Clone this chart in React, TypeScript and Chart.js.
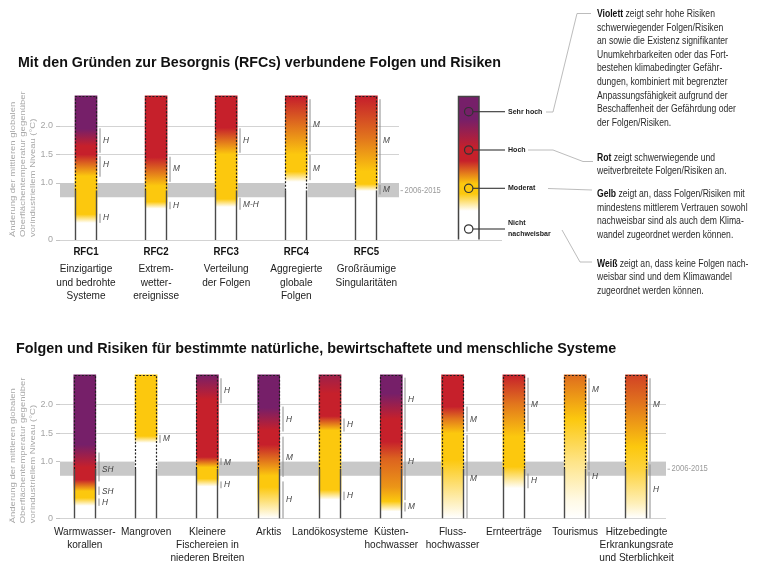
import React, { useEffect, useRef } from 'react';
import { Chart, registerables } from 'chart.js';

Chart.register(...registerables);

// ------------------------------------------------------------------ data
// risk level scale: 0 = nicht nachweisbar (weiß), 1 = moderat (gelb), 2 = hoch (rot), 3 = sehr hoch (violett)
const riskPalette = ['#FFFFFF', '#FCC80E', '#C6202B', '#761F69'];

const titleTop = 'Mit den Gründen zur Besorgnis (RFCs) verbundene Folgen und Risiken';
const titleBottom = 'Folgen und Risiken für bestimmte natürliche, bewirtschaftete und menschliche Systeme';

const yTitleLines = ['Änderung der mittleren globalen', 'Oberflächentemperatur gegenüber', 'vorindustriellem Niveau (°C)'];
const yTicksShown = [0, 1.0, 1.5, 2.0];
const yGridShown = [0, 1.5, 2.0];
const yMax = 2.6;
const presentDayBand = [0.75, 1.0];
const presentDayLabel = '2006-2015';
const dashedAbove = 0.87;

const rfcCodes = ['RFC1', 'RFC2', 'RFC3', 'RFC4', 'RFC5'];
const rfcNames = [
  ['Einzigartige', 'und bedrohte', 'Systeme'],
  ['Extrem-', 'wetter-', 'ereignisse'],
  ['Verteilung', 'der Folgen'],
  ['Aggregierte', 'globale', 'Folgen'],
  ['Großräumige', 'Singularitäten'],
];
const rfcBarTop = [2.53, 2.53, 2.53, 2.53, 2.53];
// [warming °C, risk level]
const rfcRiskStops = [
  [[0.3, 0], [0.45, 1], [1.12, 1], [1.5, 2], [1.65, 2], [1.95, 3]],
  [[0.55, 0], [0.67, 1], [0.95, 1], [1.45, 2]],
  [[0.58, 0], [0.72, 1], [1.5, 1], [1.97, 2]],
  [[1.02, 0], [1.2, 1], [1.5, 1], [2.0, 1.5], [2.5, 2]],
  [[0.86, 0], [0.98, 1], [1.2, 1], [1.8, 1.5], [2.5, 2]],
];
// [from °C, to °C, confidence, label at °C]
const rfcConfidence = [
  [[1.53, 1.96, 'H', 1.75], [1.11, 1.47, 'H', 1.32], [0.3, 0.46, 'H', 0.39]],
  [[1.02, 1.46, 'M', 1.25], [0.54, 0.67, 'H', 0.6]],
  [[1.53, 1.96, 'H', 1.75], [0.53, 0.74, 'M-H', 0.63]],
  [[1.55, 2.47, 'M', 2.02], [1.05, 1.49, 'M', 1.25]],
  [[1.0, 2.47, 'M', 1.74], [0.8, 0.97, 'M', 0.89]],
];

const systemNames = [
  ['Warmwasser-', 'korallen'],
  ['Mangroven'],
  ['Kleinere', 'Fischereien in', 'niederen Breiten'],
  ['Arktis'],
  ['Landökosysteme'],
  ['Küsten-', 'hochwasser'],
  ['Fluss-', 'hochwasser'],
  ['Ernteerträge'],
  ['Tourismus'],
  ['Hitzebedingte', 'Erkrankungsrate', 'und Sterblichkeit'],
];
const systemBarTop = [2.53, 2.53, 2.53, 2.53, 2.53, 2.53, 2.53, 2.53, 2.53, 2.53];
const systemRiskStops = [
  [[0.22, 0], [0.36, 1], [0.48, 1], [0.68, 2], [0.9, 2], [1.3, 3]],
  [[1.33, 0], [1.45, 1]],
  [[0.56, 0], [0.7, 1], [0.9, 1], [1.08, 2], [2.1, 2], [2.5, 2.9]],
  [[0.0, 0], [0.55, 1], [0.75, 1], [1.3, 2], [1.55, 2], [1.95, 3]],
  [[0.33, 0], [0.5, 1], [1.55, 1], [1.8, 2], [2.2, 2], [2.53, 2.5]],
  [[0.12, 0], [0.3, 1], [0.55, 1.3], [1.05, 1.6], [1.35, 2], [1.75, 2], [2.2, 3]],
  [[0.0, 0], [1.03, 1], [1.5, 1], [1.76, 1.5], [1.97, 2]],
  [[0.53, 0], [0.91, 1], [1.44, 1], [2.03, 1.5], [2.53, 2]],
  [[0.0, 0], [0.3, 0.1], [1.0, 0.5], [1.75, 1], [2.53, 1.55]],
  [[0.0, 0], [0.27, 0.3], [0.85, 0.8], [1.26, 1], [2.03, 1.5], [2.53, 1.8]],
];
const systemConfidence = [
  [[0.65, 1.16, 'SH', 0.86], [0.41, 0.56, 'SH', 0.48], [0.22, 0.35, 'H', 0.28]],
  [[1.33, 1.47, 'M', 1.4]],
  [[2.03, 2.47, 'H', 2.25], [0.94, 1.06, 'M', 0.99], [0.53, 0.65, 'H', 0.59]],
  [[1.53, 1.97, 'H', 1.75], [0.73, 1.44, 'M', 1.07], [0.0, 0.65, 'H', 0.33]],
  [[1.53, 1.76, 'H', 1.65], [0.32, 0.47, 'H', 0.4]],
  [[1.56, 2.48, 'H', 2.1], [0.32, 1.53, 'H', 1.0], [0.12, 0.28, 'M', 0.2]],
  [[1.53, 1.97, 'M', 1.75], [0.0, 1.47, 'M', 0.71]],
  [[1.53, 2.48, 'M', 2.0], [0.53, 0.79, 'H', 0.66]],
  [[0.85, 2.47, 'M', 2.27], [0.0, 0.82, 'H', 0.73]],
  [[1.0, 2.47, 'M', 2.0], [0.0, 0.95, 'H', 0.5]],
];

const legendLevels = [['Sehr hoch'], ['Hoch'], ['Moderat'], ['Nicht', 'nachweisbar']];
// [percent of legend bar from top, risk level]
const legendStops = [[0, 3], [16, 3], [36, 2], [45, 2], [61, 1], [68, 1], [80, 0], [100, 0]];

const notes = [
  { bold: 'Violett', lines: [' zeigt sehr hohe Risiken', 'schwerwiegender Folgen/Risiken', 'an sowie die Existenz signifikanter', 'Unumkehrbarkeiten oder das Fort-', 'bestehen klimabedingter Gefähr-', 'dungen, kombiniert mit begrenzter', 'Anpassungsfähigkeit aufgrund der', 'Beschaffenheit der Gefährdung oder', 'der Folgen/Risiken.'] },
  { bold: 'Rot', lines: [' zeigt schwerwiegende und', 'weitverbreitete Folgen/Risiken an.'] },
  { bold: 'Gelb', lines: [' zeigt an, dass Folgen/Risiken mit', 'mindestens mittlerem Vertrauen sowohl', 'nachweisbar sind als auch dem Klima-', 'wandel zugeordnet werden können.'] },
  { bold: 'Weiß', lines: [' zeigt an, dass keine Folgen nach-', 'weisbar sind und dem Klimawandel', 'zugeordnet werden können.'] },
];

// ------------------------------------------------------------------ helpers
const FONT = "'Liberation Sans', Arial, Helvetica, sans-serif";
const NARROW = "'Liberation Sans Narrow', 'Arial Narrow', 'Liberation Sans', sans-serif";

function hexRgb(h: string) {
  const n = parseInt(h.slice(1), 16);
  return [(n >> 16) & 255, (n >> 8) & 255, n & 255];
}
function levelColor(l: number) {
  const i = Math.max(0, Math.min(Math.floor(l), riskPalette.length - 2));
  const f = Math.min(1, l - i);
  const a = hexRgb(riskPalette[i]);
  const b = hexRgb(riskPalette[i + 1]);
  const m = a.map((v, k) => Math.round(v + (b[k] - v) * f));
  return `rgb(${m[0]},${m[1]},${m[2]})`;
}

function drawText(ctx: any, text: string, x: number, y: number, font: string, color: string, align: string, sx: number) {
  ctx.save();
  ctx.translate(x, y);
  ctx.scale(sx, 1);
  ctx.font = font;
  ctx.fillStyle = color;
  ctx.textAlign = align;
  ctx.textBaseline = 'middle';
  ctx.fillText(text, 0, 0);
  ctx.restore();
}
function seg(ctx: any, x1: number, y1: number, x2: number, y2: number) {
  ctx.beginPath();
  ctx.moveTo(x1, y1);
  ctx.lineTo(x2, y2);
  ctx.stroke();
}

function RiskPanel(props: any) {
  const ref = useRef<HTMLCanvasElement | null>(null);
  const {
    id, canvasTop, canvasHeight, zeroY, unitPx, right, center0, step,
    tops, stops, conf, codes, names, zeroExtension, yTitleShift, codeOffset, nameOffset, nameStep,
  } = props;

  useEffect(() => {
    const left = 60;
    const bottom = zeroY - canvasTop;
    const top = bottom - yMax * unitPx;
    const xMin = -(center0 - left) / step;
    const xMax = xMin + (right - left) / step;

    const gradientFor = (c: any) => {
      const chart = c.chart;
      const y = chart.scales && chart.scales.y;
      if (!y || c.dataIndex == null) return '#ffffff';
      const i = c.dataIndex;
      const y0 = y.getPixelForValue(0);
      const y1 = y.getPixelForValue(tops[i]);
      if (!isFinite(y0) || !isFinite(y1) || y0 === y1) return '#ffffff';
      const g = chart.ctx.createLinearGradient(0, y0, 0, y1);
      stops[i].forEach(([v, l]: any) => g.addColorStop(Math.min(1, Math.max(0, v / tops[i])), levelColor(l)));
      return g;
    };

    const plugin = {
      id: 'riskDecor' + id,
      beforeDatasetsDraw(chart: any) {
        const { ctx, chartArea: a, scales } = chart;
        const y = scales.y;
        ctx.save();
        const yb1 = y.getPixelForValue(presentDayBand[1]);
        const yb0 = y.getPixelForValue(presentDayBand[0]);
        ctx.fillStyle = '#c8c8c8';
        ctx.fillRect(a.left, yb1, a.right - a.left, yb0 - yb1);
        const ym = (yb0 + yb1) / 2;
        ctx.strokeStyle = '#b0b0b0';
        ctx.lineWidth = 1;
        seg(ctx, a.right + 1.5, ym + 0.5, a.right + 4, ym + 0.5);
        drawText(ctx, presentDayLabel, a.right + 5.5, ym, `9.5px ${FONT}`, '#9a9a9a', 'left', 0.8);
        if (zeroExtension) {
          const y0 = Math.round(y.getPixelForValue(0)) + 0.5;
          ctx.strokeStyle = '#d0d0d0';
          seg(ctx, a.right, y0, a.right + zeroExtension, y0);
        }
        ctx.restore();
      },
      afterDatasetsDraw(chart: any) {
        const { ctx, chartArea: a, scales } = chart;
        const y = scales.y;
        const meta = chart.getDatasetMeta(0);
        ctx.save();
        meta.data.forEach((bar: any, i: number) => {
          const bl = Math.round(bar.x - bar.width / 2) + 0.5;
          const br = Math.round(bar.x + bar.width / 2) - 0.5;
          const y0 = y.getPixelForValue(0);
          const yd = y.getPixelForValue(dashedAbove);
          const yt = Math.round(y.getPixelForValue(tops[i])) + 0.5;
          ctx.setLineDash([]);
          ctx.strokeStyle = '#4a4a4a';
          ctx.lineWidth = 1.4;
          seg(ctx, bl, y0, bl, yd);
          seg(ctx, br, y0, br, yd);
          ctx.strokeStyle = '#1e1e1e';
          ctx.lineWidth = 1.2;
          ctx.setLineDash([2, 1.6]);
          ctx.beginPath();
          ctx.moveTo(bl, yd);
          ctx.lineTo(bl, yt);
          ctx.lineTo(br, yt);
          ctx.lineTo(br, yd);
          ctx.stroke();
          ctx.setLineDash([]);
          // confidence brackets
          conf[i].forEach(([from, to, label, at]: any) => {
            ctx.strokeStyle = '#8c8c8c';
            ctx.lineWidth = 1;
            seg(ctx, br + 3.5, y.getPixelForValue(from), br + 3.5, y.getPixelForValue(to));
            drawText(ctx, label, br + 6.5, y.getPixelForValue(at), `italic 9px ${FONT}`, '#444', 'left', 0.92);
          });
          // category labels
          if (codes) {
            drawText(ctx, codes[i], bar.x, a.bottom + codeOffset, `bold 11.5px ${FONT}`, '#111', 'center', 0.84);
          }
          names[i].forEach((t: string, k: number) => {
            drawText(ctx, t, bar.x, a.bottom + nameOffset + k * nameStep, `11.2px ${FONT}`, '#222', 'center', 0.9);
          });
        });
        // y axis title (rotated, bottom aligned)
        yTitleLines.forEach((t, k) => {
          ctx.save();
          ctx.translate(12.5 + k * 10, a.bottom + yTitleShift);
          ctx.scale(0.85, 1);
          ctx.rotate(-Math.PI / 2);
          ctx.font = `9.5px ${FONT}`;
          ctx.fillStyle = '#a8a8a8';
          ctx.textAlign = 'left';
          ctx.textBaseline = 'middle';
          ctx.fillText(t, 0, 0);
          ctx.restore();
        });
        ctx.restore();
      },
    };

    const chart = new Chart(ref.current as HTMLCanvasElement, {
      type: 'bar',
      data: {
        datasets: [
          {
            data: tops.map((t: number, i: number) => ({ x: i, y: t })),
            backgroundColor: gradientFor,
            borderWidth: 0,
            barThickness: 22,
          },
        ],
      },
      options: {
        animation: false,
        responsive: false,
        maintainAspectRatio: false,
        events: [],
        layout: { padding: { top, bottom: canvasHeight - bottom, left: 0, right: 764 - right } },
        plugins: { legend: { display: false }, tooltip: { enabled: false }, title: { display: false } },
        scales: {
          x: { type: 'linear', min: xMin, max: xMax, display: false, offset: false, grid: { display: false, offset: false } },
          y: {
            type: 'linear',
            min: 0,
            max: yMax,
            border: { display: false },
            afterFit: (s: any) => {
              s.width = left;
            },
            ticks: {
              stepSize: 0.5,
              padding: 3,
              color: '#a5a5a5',
              font: { size: 9, family: NARROW },
              callback: (v: any) => (yTicksShown.includes(v) ? (v === 0 ? '0' : Number(v).toFixed(1)) : ''),
            },
            grid: {
              drawTicks: true,
              tickLength: 4,
              lineWidth: 1,
              color: (c: any) => (c.tick && yGridShown.includes(c.tick.value) ? '#d3d3d3' : 'rgba(0,0,0,0)'),
              tickColor: (c: any) => (c.tick && yTicksShown.includes(c.tick.value) ? '#c4c4c4' : 'rgba(0,0,0,0)'),
            },
          },
        },
      },
      plugins: [plugin],
    } as any);
    return () => chart.destroy();
  }, []);

  return (
    <canvas
      ref={ref}
      width={764}
      height={canvasHeight}
      style={{ position: 'absolute', left: 0, top: canvasTop, width: 764, height: canvasHeight }}
    />
  );
}

function TextLine({ x, y, size, sx = 1, weight = 400, color = '#222', children }: any) {
  return (
    <div
      style={{
        position: 'absolute',
        left: x,
        top: y - size * 0.65,
        height: size * 1.3,
        lineHeight: `${size * 1.3}px`,
        fontSize: size,
        fontFamily: FONT,
        fontWeight: weight,
        color,
        whiteSpace: 'nowrap',
        transform: `scaleX(${sx})`,
        transformOrigin: '0 50%',
      }}
    >
      {children}
    </div>
  );
}

const noteFirstY = [13.5, 157, 193.5, 263];
const noteStep = 13.6;
const legendCircleY = [111.7, 150, 188.3, 229];

export default function App() {
  return (
    <div style={{ position: 'absolute', left: 0, top: 0, width: 764, height: 564, background: '#fff', overflow: 'hidden' }}>
      <RiskPanel
        id="rfc"
        canvasTop={0}
        canvasHeight={320}
        zeroY={240}
        unitPx={57}
        right={399}
        center0={86}
        step={70.1}
        tops={rfcBarTop}
        stops={rfcRiskStops}
        conf={rfcConfidence}
        codes={rfcCodes}
        names={rfcNames}
        zeroExtension={103}
        yTitleShift={-3}
        codeOffset={12.3}
        nameOffset={29.3}
        nameStep={13.5}
      />
      <RiskPanel
        id="sys"
        canvasTop={320}
        canvasHeight={244}
        zeroY={518.3}
        unitPx={56.7}
        right={666}
        center0={84.8}
        step={61.3}
        tops={systemBarTop}
        stops={systemRiskStops}
        conf={systemConfidence}
        codes={null}
        names={systemNames}
        zeroExtension={0}
        yTitleShift={5}
        codeOffset={0}
        nameOffset={13.4}
        nameStep={13.3}
      />

      <TextLine x={18} y={62} size={15} sx={0.95} weight={700} color="#111">{titleTop}</TextLine>
      <TextLine x={16} y={348} size={15} sx={0.955} weight={700} color="#111">{titleBottom}</TextLine>

      <svg width={764} height={564} style={{ position: 'absolute', left: 0, top: 0 }}>
        <defs>
          <linearGradient id="legendGrad" x1="0" y1="0" x2="0" y2="1">
            {legendStops.map(([p, l], k) => (
              <stop key={k} offset={`${p}%`} stopColor={levelColor(l)} />
            ))}
          </linearGradient>
        </defs>
        <rect x={458.5} y={96.5} width={20.5} height={143} fill="url(#legendGrad)" />
        <path d="M458.5 239.5 V96.5 H479 V239.5" stroke="#444" strokeWidth={1.5} fill="none" />
        {legendCircleY.map((cy, k) => (
          <g key={k}>
            <circle cx={468.7} cy={cy} r={4.2} stroke="#333" strokeWidth={1.2} fill="none" />
            <line x1={473} y1={cy} x2={505} y2={cy} stroke="#333" strokeWidth={1.1} />
          </g>
        ))}
        <g stroke="#b4b4b4" strokeWidth={0.9} fill="none">
          <polyline points="546,112 553,112 577,13.5 591,13.5" />
          <polyline points="528,150 553,150 583,161.5 593,161.5" />
          <polyline points="548,188.5 592,190" />
          <polyline points="562,230 580,262 592,262" />
        </g>
      </svg>

      {legendLevels.map((lines, k) =>
        lines.map((t, j) => (
          <TextLine
            key={`${k}-${j}`}
            x={508}
            y={lines.length > 1 ? legendCircleY[k] - 5.5 + j * 11 : legendCircleY[k]}
            size={8}
            sx={0.88}
            weight={700}
            color="#222"
          >
            {t}
          </TextLine>
        ))
      )}

      {notes.map((n, k) =>
        n.lines.map((t, j) => (
          <TextLine key={`n${k}-${j}`} x={597} y={noteFirstY[k] + j * noteStep} size={10} sx={0.86} color="#2c2c2c">
            {j === 0 ? (
              <>
                <span style={{ fontWeight: 700, color: '#111' }}>{n.bold}</span>
                {t}
              </>
            ) : (
              t
            )}
          </TextLine>
        ))
      )}
    </div>
  );
}
